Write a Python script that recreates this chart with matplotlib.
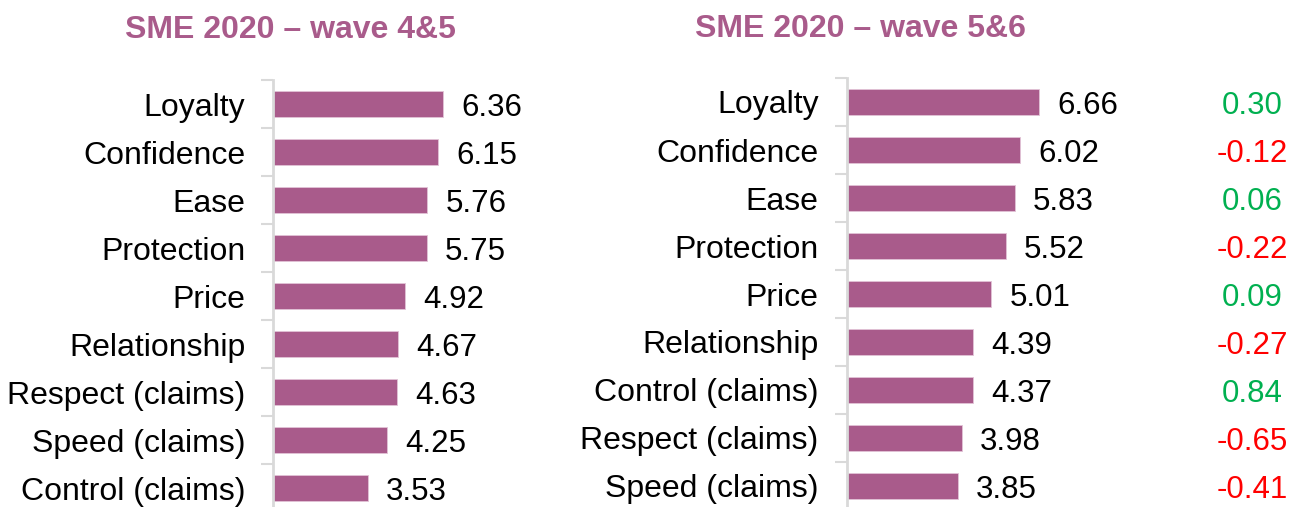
import matplotlib
matplotlib.use("Agg")
import matplotlib.pyplot as plt

plt.rcParams['font.family'] = ['Liberation Sans', 'DejaVu Sans']

left_title = "SME 2020 – wave 4&5"
left_categories = ["Loyalty", "Confidence", "Ease", "Protection", "Price",
                   "Relationship", "Respect (claims)", "Speed (claims)", "Control (claims)"]
left_values = [6.36, 6.15, 5.76, 5.75, 4.92, 4.67, 4.63, 4.25, 3.53]

right_title = "SME 2020 – wave 5&6"
right_categories = ["Loyalty", "Confidence", "Ease", "Protection", "Price",
                    "Relationship", "Control (claims)", "Respect (claims)", "Speed (claims)"]
right_values = [6.66, 6.02, 5.83, 5.52, 5.01, 4.39, 4.37, 3.98, 3.85]
right_changes = ["0.30", "-0.12", "0.06", "-0.22", "0.09", "-0.27", "0.84", "-0.65", "-0.41"]

BAR = "#A95B8B"
TITLE = "#A95B8B"
GREEN = "#00B050"
RED = "#FF0000"
SPINE = "#D9D9D9"
FS_CAT = 23
FS_VAL = 22.5
FS_TITLE = 23

W, H = 1293, 507
fig = plt.figure(figsize=(W / 100, H / 100), dpi=100)


def make_axes(x0_px, top_px, bottom_px, px_per_unit, xmax=10):
    width_px = px_per_unit * xmax
    return fig.add_axes([x0_px / W, (H - bottom_px) / H, width_px / W, (bottom_px - top_px) / H])


def draw(ax, cats, vals):
    n = len(cats)
    y = list(range(n))
    ax.barh(y, vals, height=0.54, color=BAR, edgecolor="#E2C3D6", linewidth=0.6)
    ax.set_ylim(n - 0.5, -0.5)
    ax.set_xlim(0, 10)
    ax.set_yticks(y)
    ax.set_yticklabels(cats, fontsize=FS_CAT)
    ax.set_yticks([i - 0.5 for i in range(n + 1)], minor=True)
    ax.tick_params(axis='y', which='major', length=0, pad=20)
    ax.tick_params(axis='y', which='minor', length=9, width=1.5, color=SPINE)
    ax.set_xticks([])
    for s in ["top", "right", "bottom"]:
        ax.spines[s].set_visible(False)
    ax.spines["left"].set_color(SPINE)
    ax.spines["left"].set_linewidth(2)
    for yi, v in zip(y, vals):
        ax.annotate(f"{v:.2f}", (v, yi), xytext=(13, 0), textcoords="offset points",
                    ha="left", va="center_baseline", fontsize=FS_VAL, color="black")


axL = make_axes(273, 80, 512.5, 26.8)
draw(axL, left_categories, left_values)

axR = make_axes(846.5, 78, 510, 28.9)
draw(axR, right_categories, right_values)

# change column
for i, c in enumerate(right_changes):
    col = RED if c.startswith("-") else GREEN
    y_disp = axR.transData.transform((0, i))[1]
    fig.text(1252 / W, y_disp / H, c, ha="center", va="center_baseline",
             fontsize=FS_VAL, color=col)

fig.text(290.5 / W, 1 - 29.5 / H, left_title, ha="center", va="center",
         fontsize=FS_TITLE, fontweight="bold", color=TITLE)
fig.text(860.7 / W, 1 - 29 / H, right_title, ha="center", va="center",
         fontsize=FS_TITLE, fontweight="bold", color=TITLE)

fig.savefig("out.png", dpi=100)
